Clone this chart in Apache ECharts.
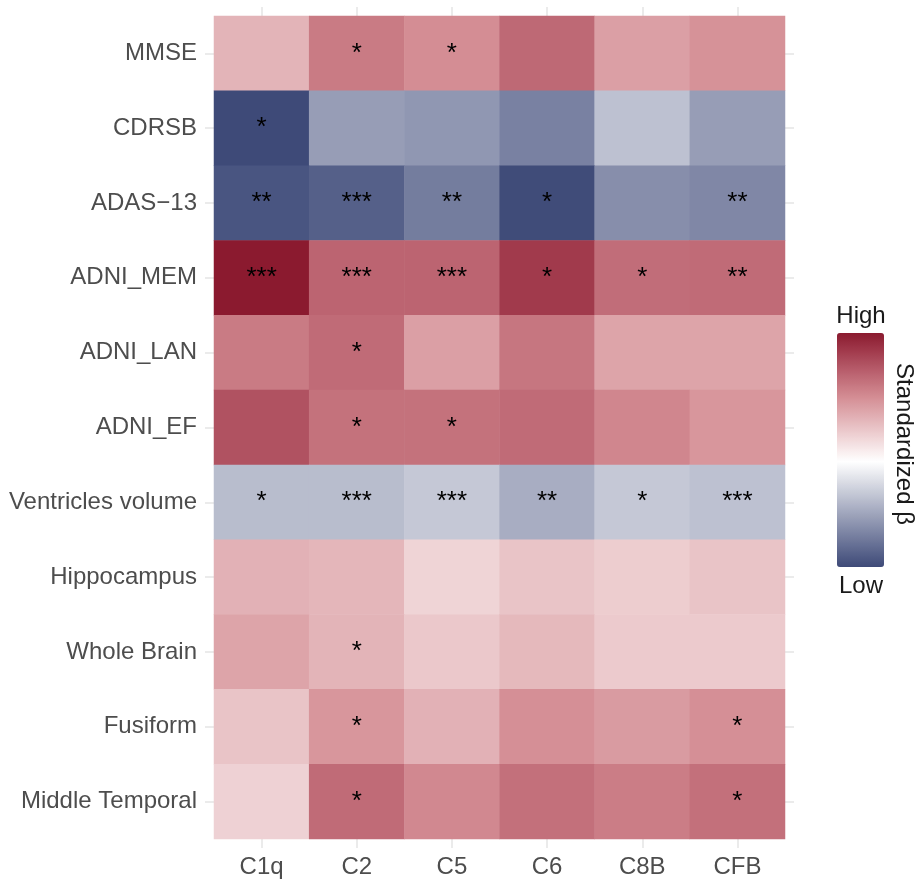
<!DOCTYPE html>
<html>
<head>
<meta charset="utf-8">
<script src="https://cdn.jsdelivr.net/npm/echarts@6/dist/echarts.min.js"></script>
<style>
html,body{margin:0;padding:0;background:#fff;}
#chart{width:919px;height:881px;}
</style>
</head>
<body>
<div id="chart"></div>
<script>
var genes = ['C1q', 'C2', 'C5', 'C6', 'C8B', 'CFB'];
var outcomes = ['MMSE', 'CDRSB', 'ADAS\u221213', 'ADNI_MEM', 'ADNI_LAN', 'ADNI_EF',
  'Ventricles volume', 'Hippocampus', 'Whole Brain', 'Fusiform', 'Middle Temporal'];

// standardized beta (relative scale), one row per outcome, columns follow genes
var betaMMSE      = [0.33, 0.58, 0.50, 0.66, 0.42, 0.48];
var betaCDRSB     = [-0.82, -0.44, -0.47, -0.57, -0.28, -0.44];
var betaADAS13    = [-0.77, -0.72, -0.59, -0.81, -0.51, -0.54];
var betaMEM       = [1.00, 0.68, 0.68, 0.86, 0.64, 0.65];
var betaLAN       = [0.58, 0.65, 0.42, 0.60, 0.40, 0.40];
var betaEF        = [0.76, 0.62, 0.62, 0.65, 0.53, 0.46];
var betaVentr     = [-0.30, -0.30, -0.25, -0.37, -0.25, -0.28];
var betaHippo     = [0.34, 0.32, 0.19, 0.26, 0.22, 0.26];
var betaWhole     = [0.40, 0.33, 0.24, 0.31, 0.23, 0.23];
var betaFusi      = [0.26, 0.46, 0.34, 0.49, 0.44, 0.49];
var betaMidTemp   = [0.20, 0.65, 0.52, 0.63, 0.57, 0.63];

var starsMMSE     = ['', '*', '*', '', '', ''];
var starsCDRSB    = ['*', '', '', '', '', ''];
var starsADAS13   = ['**', '***', '**', '*', '', '**'];
var starsMEM      = ['***', '***', '***', '*', '*', '**'];
var starsLAN      = ['', '*', '', '', '', ''];
var starsEF       = ['', '*', '*', '', '', ''];
var starsVentr    = ['*', '***', '***', '**', '*', '***'];
var starsHippo    = ['', '', '', '', '', ''];
var starsWhole    = ['', '*', '', '', '', ''];
var starsFusi     = ['', '*', '', '', '', '*'];
var starsMidTemp  = ['', '*', '', '', '', '*'];

var legendTexts = ['High', 'Low'];
var legendTitle = 'Standardized \u03B2';
var scaleMin = -0.82, scaleMax = 1.0;

var betaRows = [betaMMSE, betaCDRSB, betaADAS13, betaMEM, betaLAN, betaEF,
  betaVentr, betaHippo, betaWhole, betaFusi, betaMidTemp];
var starRows = [starsMMSE, starsCDRSB, starsADAS13, starsMEM, starsLAN, starsEF,
  starsVentr, starsHippo, starsWhole, starsFusi, starsMidTemp];

var data = [];
betaRows.forEach(function (row, r) {
  row.forEach(function (v, c) {
    data.push([c, r, v]);
  });
});

// colour ramp (style): red side stops, blue side stops
var redStops = [[255,255,255],[234,198,201],[212,141,148],[178,84,99],[139,26,47]];
var blueStops = [[255,255,255],[207,210,221],[158,164,187],[110,119,154],[62,74,120]];
function ramp(stops, t) {
  t = Math.max(0, Math.min(1, t));
  var p = t * (stops.length - 1);
  var i = Math.min(stops.length - 2, Math.floor(p));
  var f = p - i;
  var a = stops[i], b = stops[i + 1];
  var c = [0,1,2].map(function (k) { return Math.round(a[k] + (b[k] - a[k]) * f); });
  return 'rgb(' + c.join(',') + ')';
}
function colorAt(v) {
  return v >= 0 ? ramp(redStops, v / scaleMax) : ramp(blueStops, v / scaleMin);
}
var rampColors = [];
var nSteps = Math.round((scaleMax - scaleMin) / 0.02);
for (var i = 0; i <= nSteps; i++) {
  rampColors.push(colorAt(scaleMin + (scaleMax - scaleMin) * i / nSteps));
}

var FONT = 'Liberation Sans, Arial, Helvetica, sans-serif';
var gridColor = '#ebebeb';
var tickStyle = { show: true, alignWithLabel: true, length: 9, lineStyle: { color: gridColor, width: 2 } };

var chart = echarts.init(document.getElementById('chart'));
chart.setOption({
  backgroundColor: '#ffffff',
  animation: false,
  grid: { left: 214, right: 134, top: 16, bottom: 42, containLabel: false },
  xAxis: [
    {
      type: 'category', data: genes, position: 'bottom',
      axisLine: { show: false }, axisTick: tickStyle,
      axisLabel: { color: '#4d4d4d', fontSize: 24, fontFamily: FONT, margin: 16 },
      splitLine: { show: false }
    },
    {
      type: 'category', data: genes, position: 'top',
      axisLine: { show: false }, axisTick: tickStyle,
      axisLabel: { show: false }, splitLine: { show: false }
    }
  ],
  yAxis: [
    {
      type: 'category', data: outcomes, inverse: true, position: 'left',
      axisLine: { show: false }, axisTick: tickStyle,
      axisLabel: { color: '#4d4d4d', fontSize: 24, fontFamily: FONT, margin: 17 },
      splitLine: { show: false }
    },
    {
      type: 'category', data: outcomes, inverse: true, position: 'right',
      axisLine: { show: false }, axisTick: tickStyle,
      axisLabel: { show: false }, splitLine: { show: false }
    }
  ],
  visualMap: {
    type: 'continuous',
    min: scaleMin, max: scaleMax,
    calculable: false,
    orient: 'vertical',
    left: 837, top: 333,
    padding: 0,
    itemWidth: 47, itemHeight: 234,
    showLabel: false,
    inRange: { color: rampColors },
    seriesIndex: 0
  },
  graphic: [
    { type: 'text', x: 861, y: 316, style: { text: legendTexts[0], font: '24px ' + FONT, fill: '#1a1a1a', align: 'center', verticalAlign: 'middle' } },
    { type: 'text', x: 861, y: 586, style: { text: legendTexts[1], font: '24px ' + FONT, fill: '#1a1a1a', align: 'center', verticalAlign: 'middle' } },
    { type: 'text', x: 904, y: 444, rotation: -Math.PI / 2, style: { text: legendTitle, font: '24px ' + FONT, fill: '#1a1a1a', align: 'center', verticalAlign: 'middle' } }
  ],
  series: [{
    type: 'heatmap',
    xAxisIndex: 0, yAxisIndex: 0,
    data: data,
    itemStyle: { borderWidth: 0 },
    label: {
      show: true,
      color: '#000000',
      fontSize: 26,
      fontFamily: FONT,
      formatter: function (p) { return starRows[p.data[1]][p.data[0]]; }
    },
    emphasis: { disabled: true }
  }]
});
</script>
</body>
</html>
